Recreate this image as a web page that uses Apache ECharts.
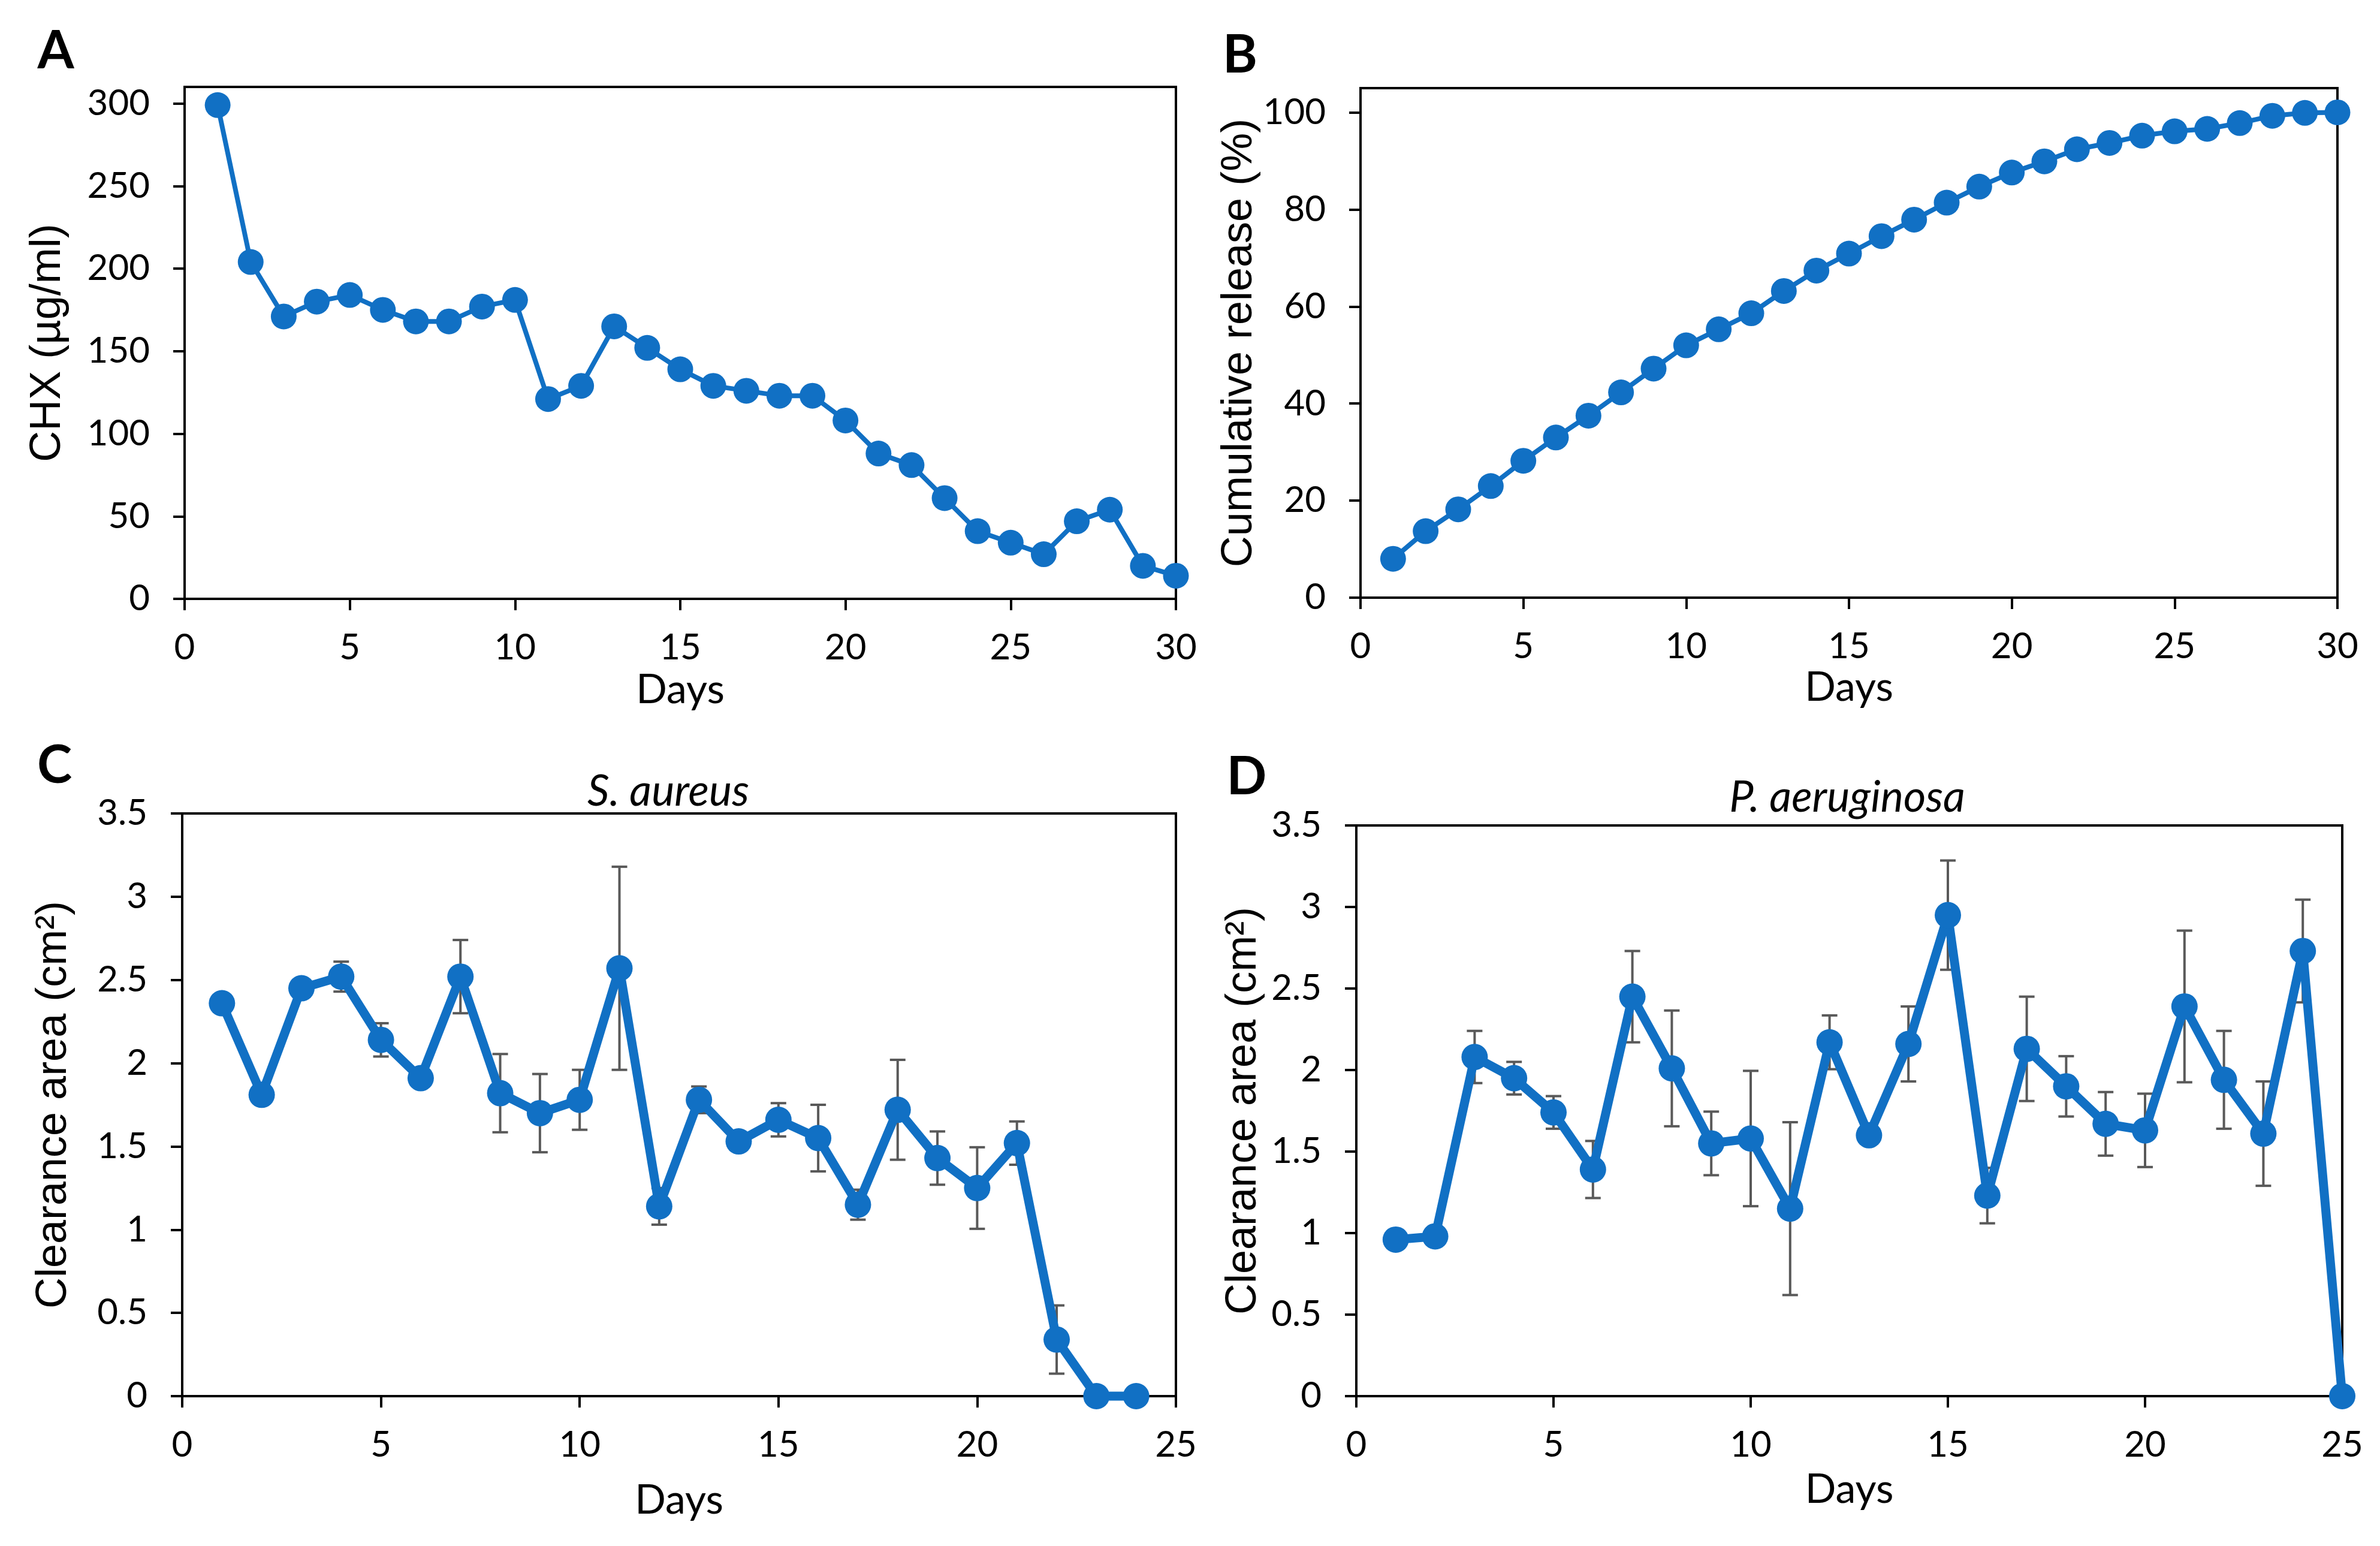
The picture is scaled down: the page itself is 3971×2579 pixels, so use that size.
<!DOCTYPE html>
<html>
<head>
<meta charset="utf-8">
<script src="https://cdn.jsdelivr.net/npm/echarts@6/dist/echarts.min.js"></script>
<style>
html,body{margin:0;padding:0;background:#fff;}
#chart{width:3971px;height:2579px;}
</style>
</head>
<body>
<div id="chart"></div>
<script>
// ---------- DATA ----------
const daysAB = [1,2,3,4,5,6,7,8,9,10,11,12,13,14,15,16,17,18,19,20,21,22,23,24,25,26,27,28,29,30];
const chxValues = [299,204,171,180,184,175,168,168,177,181,121,129,165,152,139,129,126,123,123,108,88,81,61,41,34,27,47,54,20,14];
const releaseValues = [8,13.7,18.2,23,28.2,33,37.5,42.3,47.2,52,55.3,58.6,63.2,67.4,70.9,74.5,77.9,81.4,84.7,87.6,89.9,92.4,93.7,95.2,96.1,96.6,97.8,99.3,99.9,100];

const daysC = [1,2,3,4,5,6,7,8,9,10,11,12,13,14,15,16,17,18,19,20,21,22,23,24];
const aureusValues = [2.36,1.81,2.45,2.52,2.14,1.91,2.52,1.82,1.70,1.78,2.57,1.14,1.78,1.53,1.66,1.55,1.15,1.72,1.43,1.25,1.52,0.34,0,0];
const aureusErrors = [0,0,0.04,0.09,0.1,0,0.22,0.235,0.235,0.18,0.61,0.11,0.08,0.05,0.1,0.2,0.09,0.3,0.16,0.245,0.13,0.205,0,0];

const daysD = [1,2,3,4,5,6,7,8,9,10,11,12,13,14,15,16,17,18,19,20,21,22,23,24,25];
const aeruginosaValues = [0.96,0.98,2.08,1.95,1.74,1.39,2.45,2.01,1.55,1.58,1.15,2.17,1.60,2.16,2.95,1.23,2.13,1.90,1.67,1.63,2.39,1.94,1.61,2.73,0];
const aeruginosaErrors = [0,0,0.16,0.1,0.1,0.175,0.28,0.355,0.195,0.415,0.53,0.165,0,0.23,0.335,0.17,0.32,0.185,0.195,0.225,0.465,0.3,0.32,0.315,0];

const xTicks30 = [0,5,10,15,20,25,30];
const xTicks25 = [0,5,10,15,20,25];
const yTicksA = [0,50,100,150,200,250,300];
const yTicksB = [0,20,40,60,80,100];
const yTicksCD = [0,0.5,1,1.5,2,2.5,3,3.5];

// ---------- STYLE ----------
const BLUE = '#1170c4';
const TICK_FONT = 'Lato';
const TITLE_FONT = 'Liberation Sans, Arial, sans-serif';

function pairs(xs, ys){ return xs.map((x,i)=>[x, ys[i]]); }
function triples(xs, ys, es){ return xs.map((x,i)=>[x, ys[i], es[i]]); }

function xAxis(gi, max, ticks, gap){
  return {
    type:'value', gridIndex:gi, min:0, max:max, interval:5,
    name:'Days', nameLocation:'middle', nameGap:gap,
    nameTextStyle:{fontFamily:TICK_FONT, fontSize:68, color:'#000'},
    axisLine:{show:true, onZero:false, lineStyle:{color:'#000', width:4}},
    axisTick:{show:true, inside:false, length:19, lineStyle:{color:'#000', width:4}, customValues:ticks},
    axisLabel:{fontFamily:TICK_FONT, fontSize:60, color:'#000', margin:52, customValues:ticks},
    splitLine:{show:false}
  };
}
function yAxis(gi, max, interval, ticks, name, gap){
  return {
    type:'value', gridIndex:gi, min:0, max:max, interval:interval,
    name:name, nameLocation:'middle', nameGap:gap, nameRotate:90,
    nameTextStyle:{fontFamily:TITLE_FONT, fontSize:72, color:'#000'},
    axisLine:{show:true, lineStyle:{color:'#000', width:4}},
    axisTick:{show:true, inside:false, length:19, lineStyle:{color:'#000', width:4}, customValues:ticks},
    axisLabel:{fontFamily:TICK_FONT, fontSize:60, color:'#000', margin:58, customValues:ticks},
    splitLine:{show:false}
  };
}
function errorSeries(xi, data){
  return {
    type:'custom', xAxisIndex:xi, yAxisIndex:xi, z:1, silent:true,
    data:data, clip:false,
    renderItem:function(params, api){
      const x = api.value(0), y = api.value(1), e = api.value(2);
      if (!e) return null;
      const t = api.coord([x, y + e]);
      const b = api.coord([x, y - e]);
      const cw = 13;
      const st = {stroke:'#595959', lineWidth:4};
      return {type:'group', children:[
        {type:'line', shape:{x1:t[0], y1:t[1], x2:b[0], y2:b[1]}, style:st},
        {type:'line', shape:{x1:t[0]-cw, y1:t[1], x2:t[0]+cw, y2:t[1]}, style:st},
        {type:'line', shape:{x1:b[0]-cw, y1:b[1], x2:b[0]+cw, y2:b[1]}, style:st}
      ]};
    }
  };
}
function lineSeries(xi, data, lw, ss){
  return {
    type:'line', xAxisIndex:xi, yAxisIndex:xi, z:3, data:data, clip:false,
    symbol:'circle', symbolSize:ss, showAllSymbol:true,
    itemStyle:{color:BLUE},
    lineStyle:{color:BLUE, width:lw}
  };
}

const gridStyle = {show:true, borderColor:'#000', borderWidth:4, backgroundColor:'transparent', containLabel:false};

const chart = echarts.init(document.getElementById('chart'), null, {renderer:'canvas'});
chart.setOption({
  animation:false,
  backgroundColor:'#fff',
  title:[
    {text:'A', left:88, top:81, textAlign:'center', textVerticalAlign:'middle', textStyle:{fontFamily:TICK_FONT, fontWeight:'bold', fontSize:88, color:'#000'}},
    {text:'B', left:2064, top:88, textAlign:'center', textVerticalAlign:'middle', textStyle:{fontFamily:TICK_FONT, fontWeight:'bold', fontSize:88, color:'#000'}},
    {text:'C', left:86, top:1273, textAlign:'center', textVerticalAlign:'middle', textStyle:{fontFamily:TICK_FONT, fontWeight:'bold', fontSize:88, color:'#000'}},
    {text:'D', left:2075, top:1292, textAlign:'center', textVerticalAlign:'middle', textStyle:{fontFamily:TICK_FONT, fontWeight:'bold', fontSize:88, color:'#000'}},
    {text:'S. aureus', left:1110, top:1316, textAlign:'center', textVerticalAlign:'middle', textStyle:{fontFamily:TICK_FONT, fontStyle:'italic', fontWeight:'normal', fontSize:72, color:'#000'}},
    {text:'P. aeruginosa', left:3077, top:1326, textAlign:'center', textVerticalAlign:'middle', textStyle:{fontFamily:TICK_FONT, fontStyle:'italic', fontWeight:'normal', fontSize:72, color:'#000'}}
  ],
  grid:[
    Object.assign({left:308, top:145, width:1654, height:854}, gridStyle),
    Object.assign({left:2270, top:147, width:1630, height:850}, gridStyle),
    Object.assign({left:304, top:1357, width:1658, height:972}, gridStyle),
    Object.assign({left:2263, top:1377, width:1645, height:952}, gridStyle)
  ],
  xAxis:[
    xAxis(0, 30, xTicks30, 118),
    xAxis(1, 30, xTicks30, 116),
    xAxis(2, 25, xTicks25, 140),
    xAxis(3, 25, xTicks25, 122)
  ],
  yAxis:[
    yAxis(0, 310, 50, yTicksA, 'CHX (µg/ml)', 192),
    yAxis(1, 105, 20, yTicksB, 'Cumulative release (%)', 160),
    yAxis(2, 3.5, 0.5, yTicksCD, 'Clearance area (cm²)', 178),
    yAxis(3, 3.5, 0.5, yTicksCD, 'Clearance area (cm²)', 152)
  ],
  series:[
    lineSeries(0, pairs(daysAB, chxValues), 8, 43),
    lineSeries(1, pairs(daysAB, releaseValues), 8, 43),
    errorSeries(2, triples(daysC, aureusValues, aureusErrors)),
    lineSeries(2, pairs(daysC, aureusValues), 15, 44),
    errorSeries(3, triples(daysD, aeruginosaValues, aeruginosaErrors)),
    lineSeries(3, pairs(daysD, aeruginosaValues), 15, 44)
  ]
});
</script>
</body>
</html>
